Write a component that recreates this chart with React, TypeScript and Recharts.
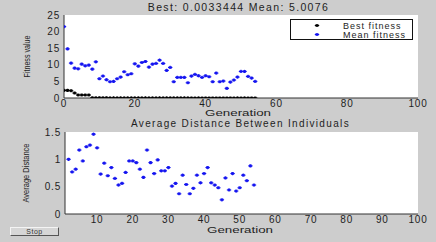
import React from 'react';
import { ScatterChart, Scatter, XAxis, YAxis, Legend, Label } from 'recharts';

// fitness per generation (gen 0..54)
const bestFitness = [
  2.3, 2.3, 2.2, 1.5, 0.9, 0.9, 0.9, 0.9, 0.05, 0.05, 0.04, 0.04, 0.04, 0.03, 0.03, 0.03,
  0.03, 0.03, 0.02, 0.02, 0.02, 0.02, 0.02, 0.02, 0.01, 0.01, 0.01, 0.01, 0.01, 0.01, 0.01,
  0.01, 0.01, 0.008, 0.008, 0.008, 0.007, 0.007, 0.007, 0.006, 0.006, 0.006, 0.005, 0.005,
  0.005, 0.005, 0.004, 0.004, 0.004, 0.004, 0.004, 0.0035, 0.0034, 0.0034, 0.0033444,
];
const meanFitness = [
  21.5, 14.8, 10.5, 9.0, 8.8, 10.2, 9.7, 9.9, 8.7, 10.9,
  5.8, 6.6, 5.5, 4.9, 5.0, 5.8, 6.3, 7.9, 7.0, 7.3,
  10.3, 9.6, 10.7, 11.0, 9.3, 10.2, 10.4, 11.4, 10.4, 8.3,
  9.2, 4.9, 6.2, 6.2, 6.2, 4.6, 6.6, 7.1, 6.7, 6.2,
  6.7, 6.4, 4.9, 7.5, 4.9, 5.1, 2.9, 4.8, 5.4, 6.3,
  8.0, 8.0, 6.5, 6.0, 5.0,
];

// average distance per generation (gen 2..54)
const distanceStartGen = 2;
const avgDistance = [
  1.0, 0.77, 0.82, 1.17, 0.97, 1.23, 1.26, 1.46, 1.21, 0.73,
  0.93, 0.7, 0.85, 0.65, 0.53, 0.56, 0.76, 0.97, 0.97, 0.94,
  0.82, 0.67, 1.17, 0.94, 0.74, 0.99, 0.79, 0.79, 0.85, 0.51,
  0.56, 0.37, 0.71, 0.54, 0.37, 0.47, 0.71, 0.57, 0.74, 0.85,
  0.57, 0.53, 0.48, 0.26, 0.66, 0.44, 0.74, 0.42, 0.48, 0.71,
  0.61, 0.88, 0.53,
];

const fitnessTicks = [0, 5, 10, 15, 20, 25];
const topGenTicks = [0, 20, 40, 60, 80, 100];
const bottomGenTicks = [10, 20, 30, 40, 50, 60, 70, 80, 90, 100];
const distanceTicks = [0, 0.5, 1, 1.5];

const BLUE = '#1414f0';
const FONT = '"Liberation Sans", Arial, sans-serif';
const BG = '#cdcdcd';

const bestData = bestFitness.map((v, i) => ({ gen: i, value: v }));
const meanData = meanFitness.map((v, i) => ({ gen: i, value: v }));
const distData = avgDistance.map((v, i) => ({ gen: i + distanceStartGen, value: v }));

// matlab-ish '*' marker
const starShape = (color: string) => (p: any) => {
  const { cx, cy } = p;
  if (cx == null || cy == null) return null;
  return (
    <g stroke={color} strokeWidth={1.1}>
      <line x1={cx - 2.2} y1={cy} x2={cx + 2.2} y2={cy} />
      <line x1={cx} y1={cy - 1.6} x2={cx} y2={cy + 1.6} />
      <line x1={cx - 1.3} y1={cy - 1.1} x2={cx + 1.3} y2={cy + 1.1} />
      <line x1={cx - 1.3} y1={cy + 1.1} x2={cx + 1.3} y2={cy - 1.1} />
    </g>
  );
};

const tickStyle = { fontSize: 10, fill: '#1e1e1e', fontFamily: FONT, letterSpacing: 0.8 };

const rotLabel = (x: number, len: number) => (p: any) => {
  const vb = p.viewBox || {};
  const cy = vb.y + vb.height / 2;
  return (
    <text
      x={x}
      y={cy}
      transform={`rotate(-90 ${x} ${cy})`}
      textAnchor="middle"
      dominantBaseline="central"
      fontSize={9}
      fontFamily={FONT}
      fill="#1e1e1e"
      textLength={len}
      lengthAdjust="spacingAndGlyphs"
    >
      {p.value}
    </text>
  );
};

const genLabel = (cx: number, y: number) => (p: any) => (
  <text
    x={cx}
    y={y}
    textAnchor="middle"
    dominantBaseline="central"
    fontSize={9}
    fontFamily={FONT}
    fill="#1e1e1e"
    textLength={66}
    lengthAdjust="spacingAndGlyphs"
  >
    {p.value}
  </text>
);

const FitnessLegend = ({ payload }: any) => (
  <div
    style={{
      width: 123,
      height: 21,
      boxSizing: 'border-box',
      border: '1px solid #111',
      background: '#fff',
      fontFamily: FONT,
      fontSize: 9,
      letterSpacing: 1,
      color: '#1e1e1e',
      paddingTop: 1,
    }}
  >
    {(payload || []).map((entry: any) => (
      <div key={entry.value} style={{ display: 'flex', alignItems: 'center', height: 9 }}>
        <svg width={52} height={9}>
          {starShape(entry.color)({ cx: 26, cy: 4.5 })}
        </svg>
        <span>{entry.value}</span>
      </div>
    ))}
  </div>
);

export default function App() {
  return (
    <div
      style={{
        position: 'absolute',
        left: 0,
        top: 0,
        width: 436,
        height: 242,
        background: BG,
        overflow: 'hidden',
        fontFamily: FONT,
      }}
    >
      <div
        style={{
          position: 'absolute',
          left: 0,
          width: 477,
          top: 2,
          lineHeight: '11px',
          textAlign: 'center',
          fontSize: 10.5,
          letterSpacing: 1.35,
          color: '#1e1e1e',
        }}
      >
        Best: 0.0033444 Mean: 5.0076
      </div>

      <div style={{ position: 'absolute', left: 0, top: 0 }}>
        <ScatterChart width={436} height={122} margin={{ top: 15, right: 18, bottom: 0, left: 34 }}>
          <rect x={64} y={15} width={354} height={83} fill="#fff" />
          <XAxis
            type="number"
            dataKey="gen"
            domain={[0, 100]}
            ticks={topGenTicks}
            height={24}
            tickLine={false}
            tickSize={1}
            tickMargin={1}
            axisLine={{ stroke: '#333' }}
            tick={tickStyle}
            allowDataOverflow
          >
            <Label value="Generation" content={genLabel(238, 112.5)} />
          </XAxis>
          <YAxis
            type="number"
            dataKey="value"
            domain={[0, 25]}
            ticks={fitnessTicks}
            width={30}
            tickLine={false}
            tickSize={2}
            tickMargin={2}
            axisLine={{ stroke: '#333' }}
            tick={tickStyle}
            allowDataOverflow
          >
            <Label value="Fitness value" content={rotLabel(27, 42)} />
          </YAxis>
          <Legend
            layout="vertical"
            align="center"
            verticalAlign="middle"
            wrapperStyle={{ left: 290, top: 19, width: 123, height: 21 }}
            content={<FitnessLegend />}
          />
          <Scatter
            name="Best fitness"
            data={bestData}
            fill="#000"
            shape={starShape('#000')}
            isAnimationActive={false}
          />
          <Scatter
            name="Mean fitness"
            data={meanData}
            fill={BLUE}
            shape={starShape(BLUE)}
            isAnimationActive={false}
          />
        </ScatterChart>
      </div>

      <div
        style={{
          position: 'absolute',
          left: 0,
          width: 481,
          top: 118,
          lineHeight: '11px',
          textAlign: 'center',
          fontSize: 10,
          letterSpacing: 1.35,
          color: '#1e1e1e',
        }}
      >
        Average Distance Between Individuals
      </div>

      <div style={{ position: 'absolute', left: 0, top: 115 }}>
        <ScatterChart width={436} height={127} margin={{ top: 17, right: 18, bottom: 0, left: 35 }}>
          <rect x={65} y={17} width={353} height={82} fill="#fff" />
          <XAxis
            type="number"
            dataKey="gen"
            domain={[1, 100]}
            ticks={bottomGenTicks}
            height={28}
            tickLine={false}
            tickSize={1}
            tickMargin={1}
            axisLine={{ stroke: '#333' }}
            tick={tickStyle}
            allowDataOverflow
          >
            <Label value="Generation" content={genLabel(240, 115)} />
          </XAxis>
          <YAxis
            type="number"
            dataKey="value"
            domain={[0, 1.5]}
            ticks={distanceTicks}
            width={30}
            tickLine={false}
            tickSize={2}
            tickMargin={2}
            axisLine={{ stroke: '#333' }}
            tick={tickStyle}
            allowDataOverflow
          >
            <Label value="Average Distance" content={rotLabel(26, 59)} />
          </YAxis>
          <Scatter
            name="Average Distance"
            data={distData}
            fill={BLUE}
            shape={starShape(BLUE)}
            isAnimationActive={false}
          />
        </ScatterChart>
      </div>

      <div
        style={{
          position: 'absolute',
          left: 10,
          top: 227,
          width: 49,
          height: 9,
          boxSizing: 'border-box',
          borderTop: '1px solid #f4f4f4',
          borderLeft: '1px solid #f4f4f4',
          borderRight: '1px solid #555',
          borderBottom: '1px solid #555',
          background: '#d6d6d6',
          fontSize: 7,
          lineHeight: '7px',
          letterSpacing: 0.5,
          textAlign: 'center',
          color: '#333',
        }}
      >
        Stop
      </div>
    </div>
  );
}
